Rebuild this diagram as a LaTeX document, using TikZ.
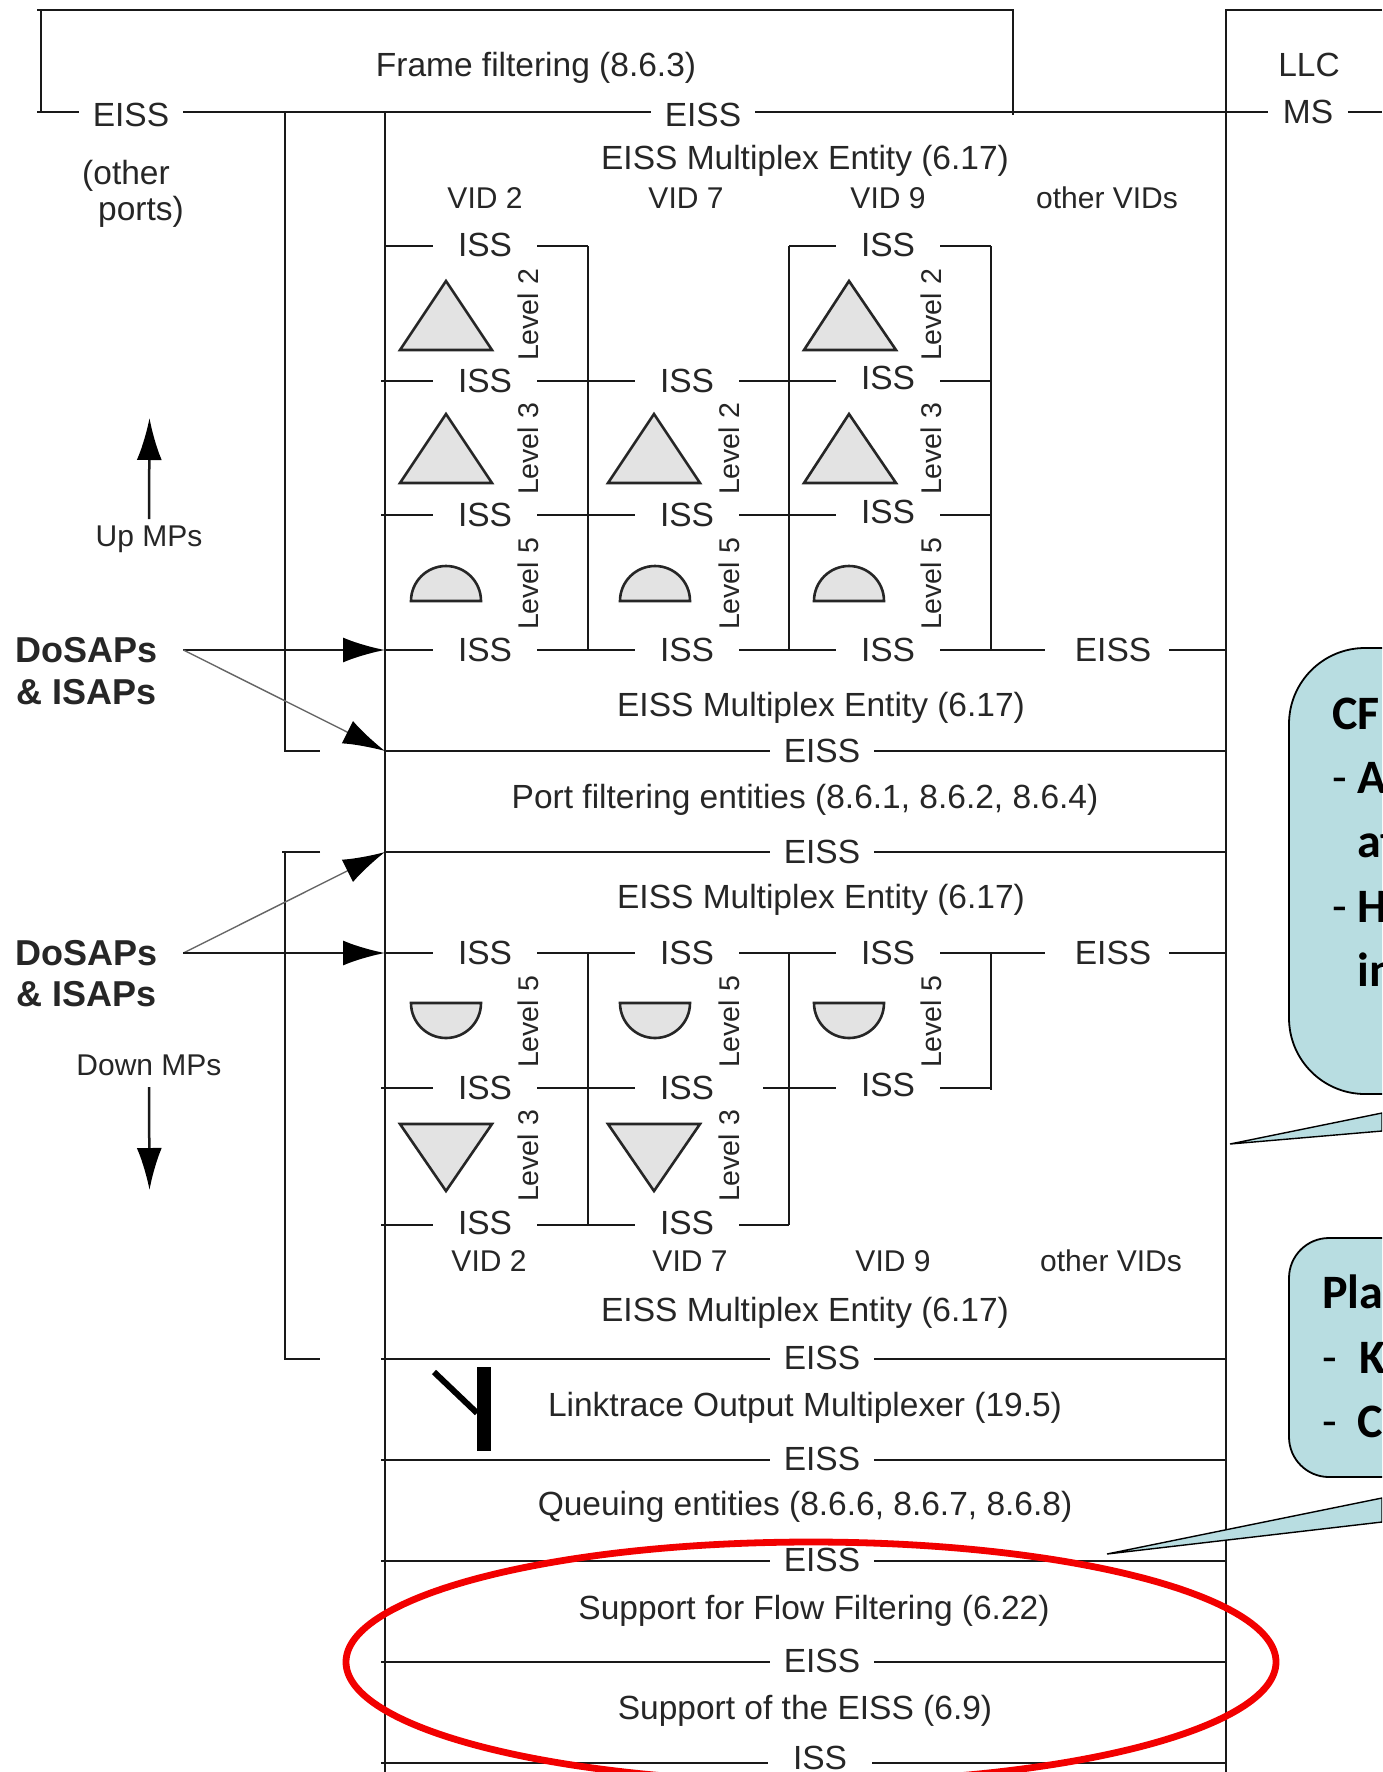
\documentclass[tikz,border=0pt]{standalone}
\usepackage{fontspec}
\setmainfont{Liberation Sans}
\newfontfamily\calloutfont{Carlito}
\usetikzlibrary{arrows.meta}

\begin{document}
\begin{tikzpicture}[x=0.5pt, y=-0.5pt,
  wire/.style={black!90, line width=1.25pt},
  thinwire/.style={black!60, line width=0.7pt},
  bigtip/.style={-{Latex[length=21pt, width=12.5pt, black]}},
  mpshape/.style={draw=black!85, fill=black!11, line width=1.3pt, line join=miter},
  iface/.style={font={\fontsize{16.75pt}{20pt}\selectfont}, text=black!85, inner sep=0pt, minimum width=52pt},
  entity/.style={font={\fontsize{16.75pt}{20pt}\selectfont}, text=black!85, inner sep=0pt},
  vidname/.style={font={\fontsize{15pt}{18pt}\selectfont}, text=black!85, inner sep=0pt},
  levelname/.style={font={\fontsize{14.25pt}{17pt}\selectfont}, text=black!85, inner sep=0pt, rotate=90},
  sapname/.style={font={\fontsize{18pt}{22pt}\selectfont\bfseries}, text=black!85, inner sep=0pt, minimum width=96pt},
  callbox/.style={draw=black, fill=callfill, line width=0.9pt},
  calltext/.style={font={\fontsize{24pt}{29pt}\selectfont\calloutfont\bfseries}, text=black, inner sep=0pt, anchor=base west}
]
\definecolor{callfill}{HTML}{B8DDE1}
\useasboundingbox (0,0) rectangle (1382,1772);
\clip (0,0) rectangle (1382,1772);
\fill[white] (0,0) rectangle (1382,1772);

\coordinate (framel) at (37,112);
\coordinate (edger) at (1382,112);
\coordinate (edgeb) at (1226,1772);
\coordinate (portl) at (385,112);
\coordinate (portr) at (1226,112);
\coordinate (tickl) at (381,112);
\coordinate (uplink) at (285,112);
\coordinate (busa) at (588,246);
\coordinate (busb) at (789,246);
\coordinate (busc) at (991,246);
\coordinate (lastline) at (385,1763);

\node[entity] (framename) at (536,68) {Frame filtering (8.6.3)};
\node[entity] (llcname) at (1309,65) {LLC};
\node[iface] (eissother) at (131,115) {EISS};
\node[iface] (eissframe) at (703,115) {EISS};
\node[iface, minimum width=39.5pt] (msname) at (1308,112) {MS};
\node[entity] (otherword) at (126,176) {(other};
\node[entity] (portsword) at (141,212) {ports)};
\node[entity] (muxa) at (805,161) {EISS Multiplex Entity (6.17)};
\node[vidname] (vida1) at (485,198) {VID 2};
\node[vidname] (vida2) at (686,198) {VID 7};
\node[vidname] (vida3) at (888,198) {VID 9};
\node[vidname] (vida4) at (1107,198) {other VIDs};

\node[iface] (issa1) at (485,245) {ISS};
\node[iface] (issa3) at (888,245) {ISS};
\node[iface] (issb1) at (485,381) {ISS};
\node[iface] (issb2) at (687,381) {ISS};
\node[iface] (issb3) at (888,378) {ISS};
\node[iface] (issc1) at (485,515) {ISS};
\node[iface] (issc2) at (687,515) {ISS};
\node[iface] (issc3) at (888,512) {ISS};
\node[iface] (issd1) at (485,650) {ISS};
\node[iface] (issd2) at (687,650) {ISS};
\node[iface] (issd3) at (888,650) {ISS};
\node[iface, minimum width=62pt] (eissd) at (1107,650) {\kern6pt EISS};

\node[levelname] (lvla1) at (528,315) {Level 2};
\node[levelname] (lvlb1) at (528,449) {Level 3};
\node[levelname] (lvlc1) at (528,584) {Level 5};
\node[levelname] (lvlb2) at (729,449) {Level 2};
\node[levelname] (lvlc2) at (729,584) {Level 5};
\node[levelname] (lvla3) at (931,315) {Level 2};
\node[levelname] (lvlb3) at (931,449) {Level 3};
\node[levelname] (lvlc3) at (931,584) {Level 5};

\node[entity] (muxb) at (821,708) {EISS Multiplex Entity (6.17)};
\node[iface] (eisse) at (822,751) {EISS};
\node[entity] (portfilter) at (805,800) {Port filtering entities (8.6.1, 8.6.2, 8.6.4)};
\node[iface] (eissf) at (822,852) {EISS};
\node[entity] (muxc) at (821,900) {EISS Multiplex Entity (6.17)};

\node[iface] (issf1) at (485,953) {ISS};
\node[iface] (issf2) at (687,953) {ISS};
\node[iface] (issf3) at (888,953) {ISS};
\node[iface, minimum width=62pt] (eissg) at (1107,953) {\kern6pt EISS};
\node[iface] (issg1) at (485,1088) {ISS};
\node[iface] (issg2) at (687,1088) {ISS};
\node[iface] (issg3) at (888,1085) {ISS};
\node[iface] (issh1) at (485,1223) {ISS};
\node[iface] (issh2) at (687,1223) {ISS};

\node[levelname] (lvlf1) at (528,1022) {Level 5};
\node[levelname] (lvlg1) at (528,1156) {Level 3};
\node[levelname] (lvlf2) at (729,1022) {Level 5};
\node[levelname] (lvlg2) at (729,1156) {Level 3};
\node[levelname] (lvlf3) at (931,1022) {Level 5};

\node[vidname] (vidb1) at (489,1261) {VID 2};
\node[vidname] (vidb2) at (690,1261) {VID 7};
\node[vidname] (vidb3) at (893,1261) {VID 9};
\node[vidname] (vidb4) at (1111,1261) {other VIDs};
\node[entity] (muxd) at (805,1313) {EISS Multiplex Entity (6.17)};
\node[iface] (eissh) at (822,1358) {EISS};
\node[entity] (linktrace) at (805,1408) {Linktrace Output Multiplexer (19.5)};
\node[iface] (eissi) at (822,1459) {EISS};
\node[entity] (queuing) at (805,1507) {Queuing entities (8.6.6, 8.6.7, 8.6.8)};
\node[iface] (eissj) at (822,1560) {EISS};
\node[entity] (flowfilter) at (814,1611) {Support for Flow Filtering (6.22)};
\node[iface] (eissk) at (822,1661) {EISS};
\node[entity] (supporteiss) at (805,1711) {Support of the EISS (6.9)};
\node[iface] (issbottom) at (820,1758) {ISS};

\node[sapname] (sapa) at (87,650) {DoSAPs};
\node[sapname] (sapb) at (87,692) {\& ISAPs};
\node[sapname] (sapc) at (87,953) {DoSAPs};
\node[sapname] (sapd) at (87,994) {\& ISAPs};
\node[vidname] (upname) at (149,539) {Up MPs};
\node[vidname] (downname) at (149,1065) {Down MPs};
\coordinate (uptop) at (149.5,418);
\coordinate (downbottom) at (149.5,1190);

\draw[wire] (41,10) -- (41,112);
\draw[wire] (37,10) -- (1013,10) -- (1013,115);
\draw[wire] (1382,10) -- (1226,10) -- (edgeb);
\draw[wire] (portl) -- (portl |- edgeb);
\draw[wire] (framel) -- (eissother.west |- framel);
\draw[wire] (eissother.east |- framel) -- (eissframe.west |- framel);
\draw[wire] (eissframe.east |- framel) -- (msname);
\draw[wire] (msname) -- (edger);
\draw[wire] (uplink) -- (uplink |- eisse) -- (320,751);
\draw[wire] (320,852) -- (282,852);
\draw[wire] (uplink |- eissf) -- (285,1359) -- (320,1359);

\draw[wire] (busa) -- (busa |- issd1);
\draw[wire] (busb) -- (busb |- issd1);
\draw[wire] (busc) -- (busc |- issd1);
\draw[wire] (385,246) -- (issa1.west |- 0,246);
\draw[wire] (issa1.east |- 0,246) -- (busa);
\draw[wire] (busb) -- (issa3.west |- 0,246);
\draw[wire] (issa3.east |- 0,246) -- (busc);
\draw[wire] (tickl |- issb1) -- (issb1);
\draw[wire] (issb1) -- (issb2);
\draw[wire] (issb2) -- (issb3.west |- issb2);
\draw[wire] (issb3.east |- issb2) -- (busc |- issb2);
\draw[wire] (tickl |- issc1) -- (issc1);
\draw[wire] (issc1) -- (issc2);
\draw[wire] (issc2) -- (issc3.west |- issc2);
\draw[wire] (issc3.east |- issc2) -- (busc |- issc2);
\draw[wire] (portl |- issd1) -- (issd1);
\draw[wire] (issd1) -- (issd2);
\draw[wire] (issd2) -- (issd3);
\draw[wire] (issd3) -- (eissd);
\draw[wire] (eissd) -- (portr |- eissd);
\draw[wire] (portl |- eisse) -- (eisse);
\draw[wire] (eisse) -- (portr |- eisse);
\draw[wire] (portl |- eissf) -- (eissf);
\draw[wire] (eissf) -- (portr |- eissf);

\draw[wire] (busa |- issf1) -- (588,1225);
\draw[wire] (busb |- issf2) -- (789,1225);
\draw[wire] (busc |- issf3) -- (991,1090);
\draw[wire] (portl |- issf1) -- (issf1);
\draw[wire] (issf1) -- (issf2);
\draw[wire] (issf2) -- (issf3);
\draw[wire] (issf3) -- (eissg);
\draw[wire] (eissg) -- (portr |- eissg);
\draw[wire] (tickl |- issg1) -- (issg1);
\draw[wire] (issg1) -- (issg2);
\draw[wire] (763,1088) -- (issg3.west |- 0,1088);
\draw[wire] (issg3.east |- 0,1088) -- (991,1088);
\draw[wire] (381,1225) -- (issh1.west |- 0,1225);
\draw[wire] (issh1.east |- 0,1225) -- (issh2.west |- 0,1225);
\draw[wire] (issh2.east |- 0,1225) -- (789,1225);
\draw[wire] (381,1359) -- (eissh.west |- 0,1359);
\draw[wire] (eissh.east |- 0,1359) -- (1226,1359);
\draw[wire] (381,1460) -- (eissi.west |- 0,1460);
\draw[wire] (eissi.east |- 0,1460) -- (1226,1460);
\draw[wire] (381,1561) -- (eissj.west |- 0,1561);
\draw[wire] (eissj.east |- 0,1561) -- (1226,1561);
\draw[wire] (381,1662) -- (eissk.west |- 0,1662);
\draw[wire] (eissk.east |- 0,1662) -- (1226,1662);
\draw[wire] (tickl |- lastline) -- (issbottom.west |- lastline);
\draw[wire] (issbottom.east |- lastline) -- (portr |- lastline);

\draw[mpshape] (400,350) -- (446,281) -- (492,350) -- cycle;
\draw[mpshape] (804,350) -- (849,281) -- (896,350) -- cycle;
\draw[mpshape] (400,483) -- (446,414) -- (492,483) -- cycle;
\draw[mpshape] (608,483) -- (654,414) -- (700,483) -- cycle;
\draw[mpshape] (804,483) -- (849,414) -- (896,483) -- cycle;
\draw[mpshape] (411,601) arc[start angle=180, end angle=0, radius=17.5pt] -- cycle;
\draw[mpshape] (620,601) arc[start angle=180, end angle=0, radius=17.5pt] -- cycle;
\draw[mpshape] (814,601) arc[start angle=180, end angle=0, radius=17.5pt] -- cycle;
\draw[mpshape] (411,1003) arc[start angle=180, end angle=360, radius=17.5pt] -- cycle;
\draw[mpshape] (620,1003) arc[start angle=180, end angle=360, radius=17.5pt] -- cycle;
\draw[mpshape] (814,1003) arc[start angle=180, end angle=360, radius=17.5pt] -- cycle;
\draw[mpshape] (400,1124) -- (446,1191) -- (492,1124) -- cycle;
\draw[mpshape] (608,1124) -- (654,1191) -- (700,1124) -- cycle;

\draw[black, line width=3pt] (434,1372) -- (477,1413);
\fill[black] (477,1367) rectangle (491,1451);

\draw[wire, bigtip] (sapa.east) -- (portl |- issd1);
\draw[thinwire, bigtip] (sapa.east) -- (portl |- eisse);
\draw[thinwire, bigtip] (sapc.east) -- (portl |- eissf);
\draw[wire, bigtip] (sapc.east) -- (portl |- issf1);
\draw[wire, bigtip] (upname.north |- 0,519) -- (uptop);
\draw[wire, bigtip] (downname.south |- 0,1087) -- (downbottom);

\draw[draw=black, fill=callfill, line width=0.7pt] (1230,1144) -- (1382,1113) -- (1382,1131) -- cycle;
\draw[draw=black, fill=callfill, line width=0.7pt] (1107,1554) -- (1382,1498) -- (1382,1522) -- cycle;
\draw[callbox, rounded corners=38pt] (1289,648) rectangle (1600,1094);
\draw[callbox, rounded corners=20pt] (1289,1238) rectangle (1600,1477);

\node[calltext] (cftitle) at (1332,729) {CF};
\node[calltext] (cfdasha) at (1332,793) {{\mdseries -} A};
\node[calltext] (cfcont) at (1357,857) {at};
\node[calltext] (cfdashb) at (1332,922) {{\mdseries -} H};
\node[calltext] (cfconb) at (1357,986) {in};
\node[calltext] (platitle) at (1322,1308) {Pla};
\node[calltext] (pladasha) at (1322,1373) {\mdseries -};
\node[calltext] (plaka) at (1359,1373) {K};
\node[calltext] (pladashb) at (1322,1437) {\mdseries -};
\node[calltext] (placb) at (1357,1437) {C};

\draw[red!95!black, line width=3.4pt] (811,1662) ellipse [x radius=232.5pt, y radius=60pt];
\end{tikzpicture}
\end{document}
